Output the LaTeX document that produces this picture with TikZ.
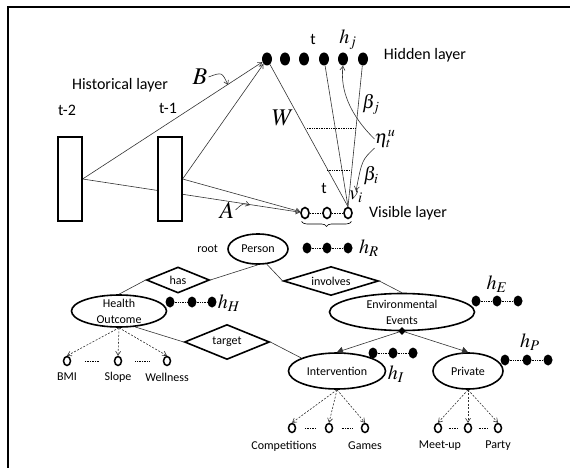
\documentclass[tikz,border=0pt]{standalone}
\usepackage{mathptmx}
\usepackage{fontspec}
\setmainfont{Carlito}
\usetikzlibrary{arrows.meta, positioning, shapes.geometric, decorations.pathreplacing, backgrounds, calc}

\begin{document}
\begin{tikzpicture}[x=1pt, y=-1pt, >={Straight Barb[length=4pt, width=5pt]},
    hdot/.style={ellipse, fill=black, inner sep=0pt, minimum width=10pt, minimum height=13pt},
    rdot/.style={ellipse, fill=black, inner sep=0pt, minimum width=9pt, minimum height=11pt},
    vdot/.style={ellipse, draw, line width=1.6pt, inner sep=0pt, minimum width=8pt, minimum height=11pt},
    leaf/.style={ellipse, draw, line width=1.5pt, inner sep=0pt, minimum width=7pt, minimum height=9pt},
    tbox/.style={draw, fill=white, line width=1.2pt, minimum width=24pt, minimum height=84pt},
    entity/.style={ellipse, draw, line width=1.6pt, inner sep=0pt},
    relation/.style={diamond, draw, line width=1.6pt, inner sep=0pt, aspect=3, font=\fontsize{12}{14}\selectfont},
    ertext/.style={font=\fontsize{12}{16}\selectfont, align=center, inner sep=1pt},
    lyr/.style={font=\fontsize{16}{18}\selectfont, inner sep=1pt},
    mlbl/.style={font=\fontsize{20}{20}\selectfont, inner sep=0pt},
    mgreek/.style={font=\fontsize{19}{19}\selectfont, inner sep=0pt},
    mbig/.style={font=\fontsize{24}{24}\selectfont, inner sep=1pt},
    link/.style={draw=black!80, line width=0.6pt},
    dots/.style={densely dotted, line width=0.7pt},
    down/.style={draw=black!80, line width=0.6pt, dash pattern=on 2pt off 1.5pt, -{Straight Barb[length=4pt, width=5pt]}}]
  \useasboundingbox (0,0) rectangle (570,468);
  \draw[line width=2pt] (8,468) -- (8,7) -- (570,7);

  % temporal RBM part
  \node[tbox] (tm2) at (70,179) {};
  \node[tbox] (tm1) at (170,179) {};
  \node[lyr] (hist) at (120,85) {Historical layer};
  \node[lyr] at (67,110) {t-2};
  \node[lyr] at (168,108) {t-1};
  \foreach \x [count=\i] in {267,285,304,324,343,363}
    \node[hdot] (h\i) at (\x,59) {};
  \foreach \x [count=\i] in {305,327,348}
    \node[vdot] (v\i) at (\x,213) {};
  \draw[dots] (v1) -- (v2) (v2) -- (v3);
  \node[lyr] at (313,40) {t};
  \node[lyr] at (324,188) {t};
  \node[lyr] at (425,55) {Hidden layer};
  \node[lyr] at (408,213) {Visible layer};
  \node[mlbl] at (348,40) {$h_j$};
  \node[mlbl] (vlab) at (356,197) {$v_i$};
  \node[mbig] (B) at (200,77) {$B$};
  \node[mbig] (A) at (227,210) {$A$};
  \node[mbig] at (283,118) {$W$};
  \node[mgreek] at (371,104) {$\beta_j$};
  \node[mgreek] (eta) at (385,139) {$\eta_t^u$};
  \node[mgreek] at (371,176) {$\beta_i$};
  \begin{scope}[on background layer]
    \draw[link, ->] (tm2.east) -- (h1);
    \draw[link, ->] (tm1.east) -- (h1);
    \draw[link, ->] (tm2.east) -- (v1);
    \draw[link, ->] (tm1.east) -- (v1);
  \end{scope}
  \draw[link] (h1) -- (v3.north);
  \draw[link] (h4) -- (v3.north);
  \draw[link] (h6) -- (v3.north);
  \draw[dots] (307,128) -- (355,128);
  \draw[dots] (327,170) -- (350,170);
  \coordinate (bp) at (228,85);
  \coordinate (ap) at (250,205);
  \draw[link, ->] (B.east) .. controls (222,72) .. (bp);
  \draw[link, ->] (A.east) .. controls (243,203) .. (ap);
  \draw[link, ->] (eta.west) .. controls (350,115) and (340,90) .. (h5.south);
  \draw[link, ->] (eta.south west) .. controls (362,160) .. (vlab.north);
  \draw[decorate, decoration={brace, amplitude=5pt}, line width=0.6pt]
    ([yshift=-4pt]v3.south east) -- ([yshift=-4pt]v1.south west);
  \foreach \x [count=\i] in {307,327,348}
    \node[rdot] (r\i) at (\x,248) {};
  \draw[dots] (r1) -- (r2) (r2) -- (r3);
  \node[mlbl] at (369,248) {$h_R$};

  % ontology part
  \node[entity, minimum width=60pt, minimum height=30pt] (pe) at (258,249) {};
  \node[ertext] at (pe) {Person};
  \node[ertext, left=8pt of pe] (root) {root};
  \node[relation, minimum width=63pt, minimum height=26pt] (has) at (178,280) {has};
  \node[relation, minimum width=95pt, minimum height=29pt] (inv) at (331,281) {involves};
  \node[relation, minimum width=85pt, minimum height=35pt] (tgt) at (227,342) {target};
  \node[entity, minimum width=95pt, minimum height=32pt] (ho) at (119,311) {};
  \node[ertext] at (ho) {Health\\Outcome};
  \node[entity, minimum width=145pt, minimum height=37pt] (ee) at (402,312) {};
  \node[ertext] at (ee) {Environmental\\Events};
  \node[entity, minimum width=97pt, minimum height=36pt] (iv) at (337,371) {};
  \node[ertext] at (iv) {Intervention};
  \node[entity, minimum width=70pt, minimum height=36pt] (pv) at (468,371) {};
  \node[ertext] at (pv) {Private};
  \node[diamond, fill=black, inner sep=0pt, minimum size=8pt] (eed) at (402,331) {};
  \draw[link] (pe.south) -- (has.east);
  \draw[link] (has.west) -- (ho.north);
  \draw[link] (pe.-60) -- (inv.west);
  \draw[link] (inv.east) -- (ee.north);
  \draw[link] (ho.-45) -- (tgt.west);
  \draw[link] (tgt.east) -- (iv.160);
  \draw[link, -{Triangle[length=6pt, width=7pt]}] (eed) -- (iv.north);
  \draw[link, -{Triangle[length=6pt, width=7pt]}] (eed) -- (pv.north);

  % hidden units of the ontology
  \foreach \x [count=\i] in {170,192,212}
    \node[rdot] (hh\i) at (\x,302) {};
  \foreach \x [count=\i] in {476,497,518}
    \node[rdot] (e\i) at (\x,301) {};
  \foreach \x [count=\i] in {373,393,413}
    \node[rdot] (i\i) at (\x,353) {};
  \foreach \x [count=\i] in {505,527,548}
    \node[rdot] (p\i) at (\x,360) {};
  \draw[dots] (hh1) -- (hh2) (hh2) -- (hh3);
  \draw[dots] (e1) -- (e2) (e2) -- (e3);
  \draw[dots] (i1) -- (i2) (i2) -- (i3);
  \draw[dots] (p1) -- (p2) (p2) -- (p3);
  \node[mlbl] at (229,303) {$h_H$};
  \node[mlbl] at (497,284) {$h_E$};
  \node[mlbl] at (396,374) {$h_I$};
  \node[mlbl] at (530,342) {$h_P$};

  % observed attributes
  \foreach \x/\t [count=\i] in {67/BMI, 118/Slope, 167/Wellness} {
    \node[leaf] (hol\i) at (\x,361) {};
    \node[ertext] at (\x,377) {\t};
    \draw[down] (ho.south) -- (hol\i.north);
  }
  \foreach \x [count=\i] in {292,329,365} {
    \node[leaf] (ivl\i) at (\x,428) {};
    \draw[down] (iv.south) -- (ivl\i.north);
  }
  \node[ertext] at (284,446) {Competitions};
  \node[ertext] at (365,446) {Games};
  \foreach \x [count=\i] in {438,468,498} {
    \node[leaf] (pvl\i) at (\x,428) {};
    \draw[down] (pv.south) -- (pvl\i.north);
  }
  \node[ertext] at (440,446) {Meet-up};
  \node[ertext] at (498,446) {Party};
  \foreach \a/\b in {hol1/hol2, hol2/hol3, ivl1/ivl2, ivl2/ivl3, pvl1/pvl2, pvl2/pvl3}
    \draw[dots] ($(\a)!0.35!(\b)$) -- ($(\a)!0.65!(\b)$);
\end{tikzpicture}
\end{document}
